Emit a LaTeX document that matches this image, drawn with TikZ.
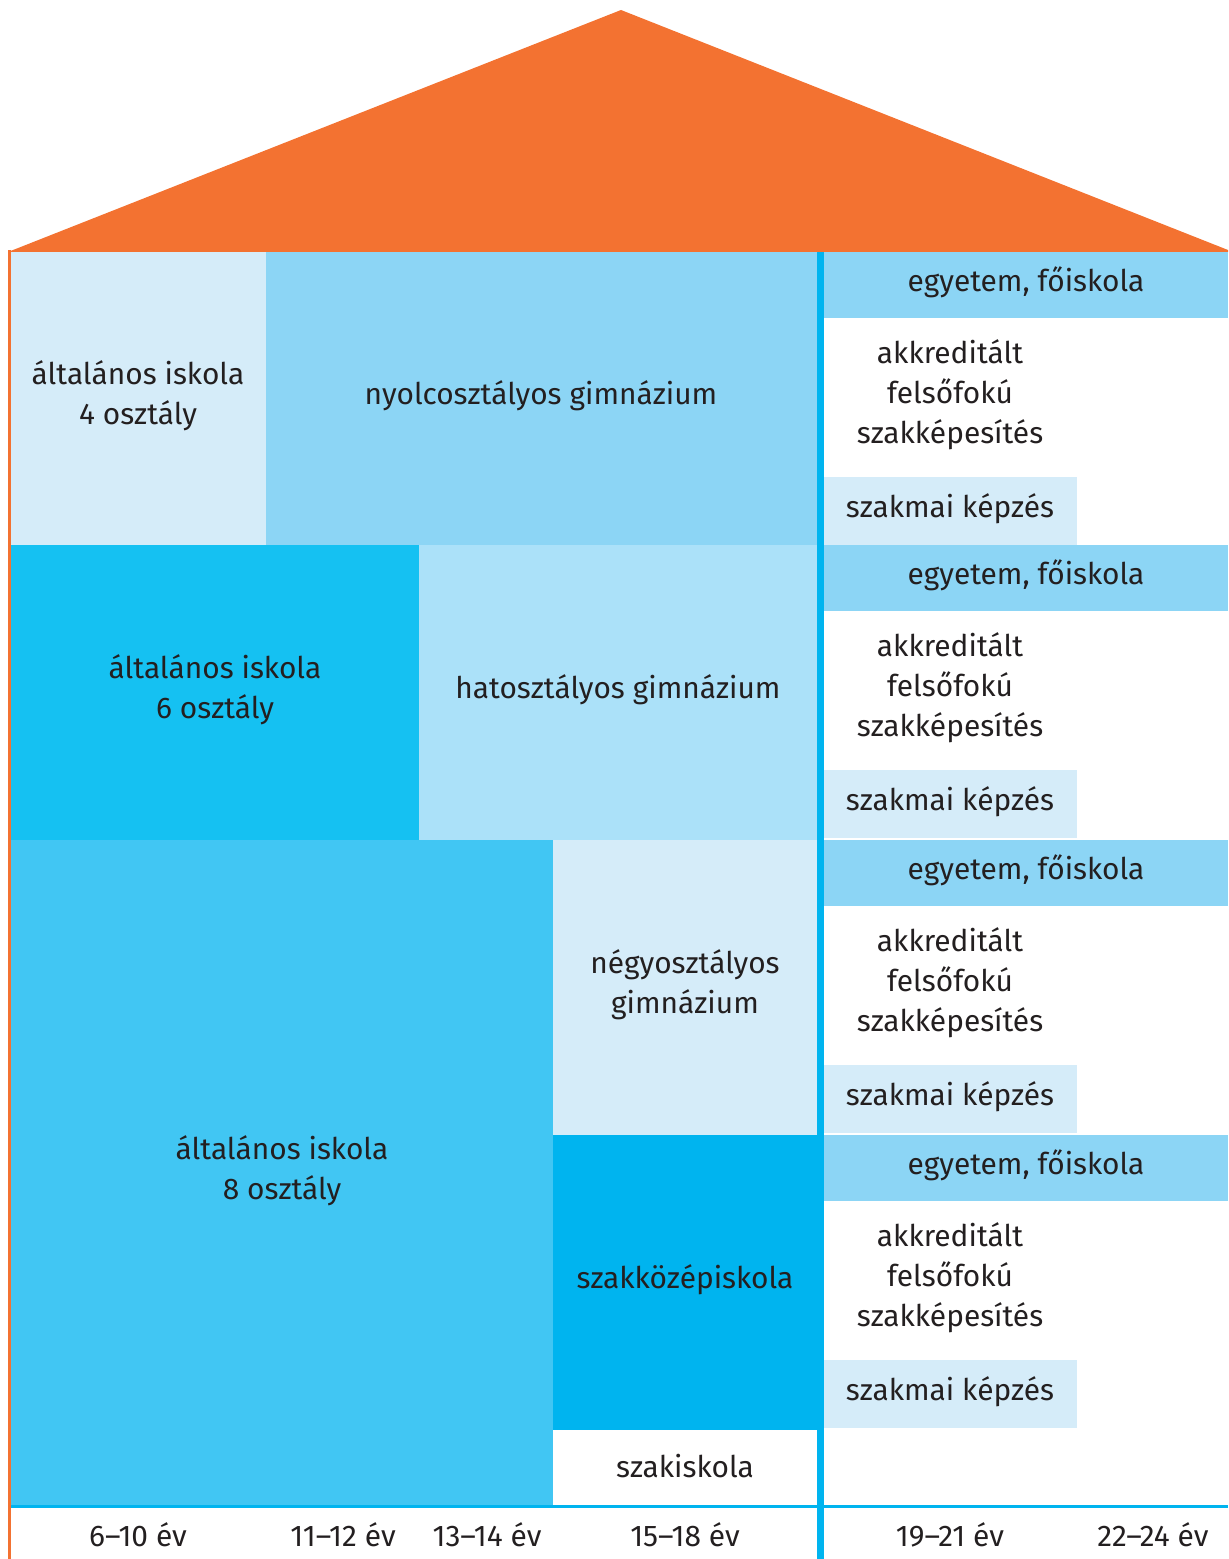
\documentclass[tikz,border=0pt]{standalone}
\usepackage{fontspec}
\setmainfont{Fira Sans}
\usetikzlibrary{calc}

\definecolor{roof}{HTML}{F37231}
\definecolor{pale}{HTML}{D5ECF9}
\definecolor{sky}{HTML}{8CD5F5}
\definecolor{light}{HTML}{ABE1F9}
\definecolor{deep}{HTML}{15C1F2}
\definecolor{mid}{HTML}{41C6F3}
\definecolor{cyanline}{HTML}{00B4EF}
\definecolor{ink}{HTML}{231F20}

\tikzset{
 lbl/.style={text=ink, font=\fontsize{22.4}{30}\selectfont, align=center, inner sep=0},
}

\begin{document}
\begin{tikzpicture}[x=0.75pt, y=-0.75pt]
\useasboundingbox (0,0) rectangle (1228,1559);
% roof
\fill[roof] (8,252) -- (621,10) -- (1228,250) -- (1228,252) -- cycle;
% left block
\fill[pale]  (11,252) rectangle (266,545);
\fill[sky]   (266,252) rectangle (817,545);
\fill[deep]  (11,545) rectangle (419,840);
\fill[light] (419,545) rectangle (817,840);
\fill[mid]   (11,840) rectangle (553,1506);
\fill[pale]  (553,840) rectangle (817,1135);
\fill[cyanline] (553,1135) rectangle (817,1430);
\node[lbl] (alt4) at (138,396) {általános iskola\\4 osztály};
\node[lbl] (nyolc) at (541,396) {nyolcosztályos gimnázium};
\node[lbl] (alt6) at (215,690) {általános iskola\\6 osztály};
\node[lbl] (hat) at (618,690) {hatosztályos gimnázium};
\node[lbl] (alt8) at (282,1171) {általános iskola\\8 osztály};
\node[lbl] (negy) at (685,985) {négyosztályos\\gimnázium};
\node[lbl] (szakkoz) at (685,1280) {szakközépiskola};
\node[lbl] (szaki) at (685,1466) {szakiskola};
% right bands
\foreach \y [count=\i] in {252,545,840,1135} {
 \fill[sky] (824,\y) rectangle (1228,\y+66);
 \fill[pale] (824,\y+225) rectangle (1077,\y+293);
 \node[lbl] (egy\i) at (1026,\y+30) {egyetem, főiskola};
 \node[lbl] (akk\i) at (950,\y+143) {akkreditált\\felsőfokú\\szakképesítés};
 \node[lbl] (szm\i) at (950,\y+257) {szakmai képzés};
}
% lines
\fill[roof] (8,250) rectangle (11,1559);
\fill[cyanline] (817,252) rectangle (824,1559);
\fill[cyanline] (11,1505) rectangle (1228,1508);
% ages
\foreach \x/\t [count=\i] in {138/6--10, 343/11--12, 487/13--14, 685/15--18, 950/19--21, 1153/22--24} {
 \node[lbl] (kor\i) at (\x,1535) {\t{} év};
}
\end{tikzpicture}
\end{document}
